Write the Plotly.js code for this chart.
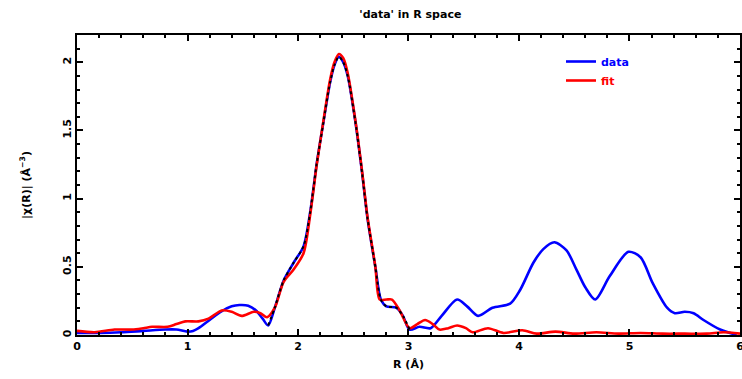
<!DOCTYPE html>
<html>
<head>
<meta charset="utf-8">
<script src="https://cdn.plot.ly/plotly-3.0.1.min.js"></script>
<style>html,body{margin:0;padding:0;background:#fff;}#chart{width:742px;height:379px;}</style>
</head>
<body>
<div id="chart"></div>
<script>
// ---- data ----
const dataR = [0, 0.2, 0.4, 0.6, 0.8, 0.9, 1.0, 1.05, 1.1, 1.2, 1.3, 1.4, 1.47, 1.55, 1.62, 1.68, 1.73, 1.79, 1.87, 1.96, 2.05, 2.11, 2.17, 2.23, 2.29, 2.33, 2.37, 2.41, 2.45, 2.52, 2.58, 2.63, 2.70, 2.75, 2.80, 2.89, 2.95, 3.01, 3.1, 3.2, 3.3, 3.44, 3.53, 3.63, 3.76, 3.92, 4.01, 4.13, 4.22, 4.32, 4.43, 4.52, 4.6, 4.69, 4.82, 4.99, 5.1, 5.21, 5.34, 5.41, 5.5, 5.58, 5.67, 5.82, 5.97];
const dataY = [0.015, 0.015, 0.02, 0.03, 0.04, 0.04, 0.025, 0.03, 0.05, 0.11, 0.17, 0.21, 0.22, 0.215, 0.18, 0.12, 0.07, 0.2, 0.4, 0.53, 0.65, 0.9, 1.26, 1.56, 1.85, 1.98, 2.04, 2.0, 1.9, 1.56, 1.19, 0.85, 0.5, 0.26, 0.21, 0.2, 0.14, 0.04, 0.06, 0.05, 0.14, 0.26, 0.21, 0.14, 0.2, 0.23, 0.33, 0.53, 0.63, 0.68, 0.62, 0.48, 0.35, 0.26, 0.43, 0.61, 0.57, 0.38, 0.2, 0.16, 0.17, 0.16, 0.11, 0.04, 0.0];

const fitR = [0, 0.16, 0.34, 0.5, 0.6, 0.68, 0.82, 0.9, 0.98, 1.1, 1.19, 1.31, 1.4, 1.49, 1.6, 1.66, 1.72, 1.79, 1.87, 1.96, 2.05, 2.11, 2.17, 2.23, 2.29, 2.33, 2.37, 2.41, 2.45, 2.52, 2.58, 2.63, 2.70, 2.74, 2.8, 2.85, 2.92, 3.01, 3.08, 3.15, 3.22, 3.28, 3.36, 3.44, 3.52, 3.58, 3.72, 3.86, 4.03, 4.16, 4.33, 4.5, 4.7, 4.9, 5.1, 5.3, 5.5, 5.7, 5.85, 6.0];
const fitY = [0.03, 0.02, 0.04, 0.04, 0.05, 0.06, 0.06, 0.08, 0.1, 0.1, 0.12, 0.18, 0.17, 0.14, 0.17, 0.16, 0.13, 0.2, 0.39, 0.48, 0.6, 0.88, 1.25, 1.57, 1.87, 2.0, 2.06, 2.03, 1.92, 1.57, 1.2, 0.86, 0.5, 0.26, 0.26, 0.26, 0.18, 0.05, 0.08, 0.11, 0.08, 0.04, 0.05, 0.07, 0.05, 0.02, 0.05, 0.015, 0.035, 0.01, 0.025, 0.01, 0.02, 0.01, 0.015, 0.01, 0.01, 0.01, 0.02, 0.01];

const fitWindow = [1.73, 3.01];
const seriesNames = ['data', 'fit'];
const titleText = "'data' in R space";
const xTitle = 'R (Å)';
const yTitle = '|χ(R)| (Å<sup>−3</sup>)';

// data inside fit window (drawn dotted black)
const winR = [], winY = [];
dataR.forEach((r, i) => { if (r >= fitWindow[0] && r <= fitWindow[1]) { winR.push(r); winY.push(dataY[i]); } });

const font = 'DejaVu Sans, Liberation Sans, sans-serif';
const bold = {family: font, size: 11, color: '#000', weight: 'bold'};

const traces = [
  {x: dataR, y: dataY, mode: 'lines', name: seriesNames[0],
   line: {color: '#0000ff', width: 2.6, shape: 'spline', smoothing: 0.8}},
  {x: fitR, y: fitY, mode: 'lines', name: "<span style='color:#ff0000'>" + seriesNames[1] + "</span>",
   line: {color: '#ff0000', width: 2.6, shape: 'spline', smoothing: 0.8}},
  {x: winR, y: winY, mode: 'lines', showlegend: false,
   line: {color: '#000000', width: 2, dash: 'dot', shape: 'spline', smoothing: 0.8}}
];

const axisCommon = {
  showline: true, linecolor: '#000', linewidth: 2, mirror: 'allticks',
  ticks: 'inside', ticklen: 6, tickwidth: 2, tickcolor: '#000',
  showgrid: false, zeroline: false,
  tickfont: bold
};

const layout = {
  width: 742, height: 379,
  margin: {l: 77, r: 2, t: 35, b: 44},
  paper_bgcolor: '#fff', plot_bgcolor: '#fff',
  title: {text: titleText, x: 0.553, xanchor: 'center', y: 0.962, yanchor: 'middle', font: bold},
  xaxis: Object.assign({}, axisCommon, {
    range: [0, 6.0001], dtick: 1, tick0: 0, ticklabeloverflow: 'allow',
    minor: {dtick: 0.2, ticks: 'inside', ticklen: 3, tickwidth: 2, tickcolor: '#000', showgrid: false},
    title: {text: xTitle, standoff: 8, font: bold}
  }),
  yaxis: Object.assign({}, axisCommon, {
    range: [0, 2.2], dtick: 0.5, tick0: 0, tickangle: -90,
    minor: {dtick: 0.1, ticks: 'inside', ticklen: 3, tickwidth: 2, tickcolor: '#000', showgrid: false},
    title: {text: yTitle, standoff: 28, font: bold}
  }),
  showlegend: true,
  legend: {x: 0.73, y: 0.96, xanchor: 'left', yanchor: 'top', bgcolor: 'rgba(0,0,0,0)',
           font: {family: font, size: 11, color: '#0000ff', weight: 'bold'}, itemwidth: 30, tracegroupgap: 6}
};

Plotly.newPlot('chart', traces, layout, {staticPlot: true, displayModeBar: false});
</script>
</body>
</html>
